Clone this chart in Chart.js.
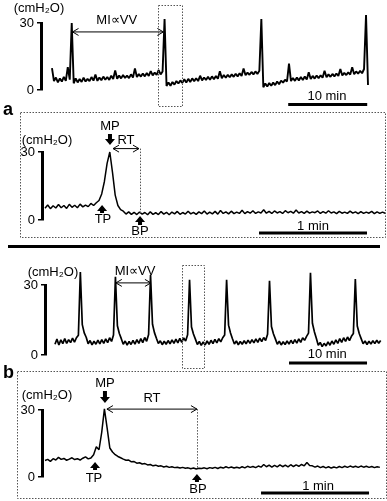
<!DOCTYPE html>
<html><head><meta charset="utf-8">
<script src="https://cdn.jsdelivr.net/npm/chart.js@4"></script>
<style>
html,body{margin:0;padding:0;background:#fff;}
#wrap{position:relative;width:387px;height:501px;overflow:hidden;background:#fff;}
canvas{position:absolute;left:0;top:0;}
.lbl{position:absolute;font:bold 18px "Liberation Sans",Arial,sans-serif;line-height:18px;color:#000;}
#sep{position:absolute;left:8px;top:245px;width:372px;height:3px;background:#000;}
</style></head><body>
<div id="wrap">
<canvas id="c1" width="387" height="501"></canvas>
<canvas id="c2" width="387" height="501"></canvas>
<canvas id="c3" width="387" height="501"></canvas>
<canvas id="c4" width="387" height="501"></canvas>
<div id="sep"></div>
<div class="lbl" style="left:3px;top:100px">a</div>
<div class="lbl" style="left:3px;top:363px">b</div>
</div>
<script>
// ---------- data ----------
const yTickValues = [0, 30];            // cmH2O scale-bar ticks
const unitLabel = '(cmH\u2082O)';
const miLabel = 'MI\u221DVV';

// Panel a, overview: pressure (cmH2O) sampled every 0.25 min
const p1StepMin = 0.25;
const p1Pressure = [
 9.8,4.0,5.6,3.4,5.2,3.8,5.9,4.1,10.2,4.6,
 30.0,3.0,5.2,3.4,4.9,3.6,5.5,3.8,5.0,4.0,
 5.8,4.2,6.9,4.1,5.6,4.4,6.0,4.6,5.8,4.5,
 6.4,4.9,8.8,5.0,6.5,5.2,6.7,5.4,6.4,5.3,
 7.0,5.6,9.6,5.8,7.1,6.0,7.4,6.1,7.6,6.3,
 8.5,6.5,7.8,6.8,8.9,7.0,8.3,31.8,1.8,3.4,
 1.9,3.6,2.4,4.0,2.9,4.3,3.2,4.8,3.3,5.0,
 3.6,5.2,3.9,5.3,4.0,6.4,4.3,5.6,4.5,5.9,
 4.6,6.1,4.8,6.3,5.0,8.4,5.3,6.7,5.5,6.8,
 5.7,7.0,5.9,7.3,6.1,7.5,6.3,9.6,6.6,7.8,
 6.8,8.1,7.0,8.3,7.2,8.6,31.8,1.2,2.9,1.6,
 3.1,1.9,3.3,2.2,3.8,2.6,4.2,3.3,4.6,3.8,
 11.8,4.0,5.4,4.1,5.6,4.3,5.8,4.5,6.0,4.7,
 7.9,4.9,6.3,5.1,6.5,5.3,6.6,5.5,8.6,5.7,
 7.0,5.9,7.2,6.1,7.4,6.3,9.4,6.5,7.7,6.7,
 7.9,6.9,10.2,7.1,8.3,7.3,8.6,7.5,9.4,33.6,
 2.2
];

// Panel a, expanded contraction: pressure sampled every 1.5 s
const p2StepSec = 1.5;
const p2Pressure = [
 5.2,6.6,5.0,6.3,5.3,6.8,5.4,6.4,5.1,6.9,
 5.6,6.5,5.4,7.0,5.8,6.6,5.9,7.3,6.4,7.6,
 8.6,11.5,17.0,25.0,30.0,21.0,11.0,6.4,4.6,3.9,
 2.6,3.6,2.5,3.4,2.4,3.5,2.6,3.3,2.3,3.6,
 2.5,3.2,2.4,3.7,2.6,3.4,2.3,3.5,2.7,3.8,
 2.5,3.3,2.6,3.9,2.7,3.4,2.5,3.6,2.8,4.0,
 2.6,3.5,2.7,3.8,2.6,4.2,2.9,3.6,2.7,3.9,
 2.8,3.5,2.9,4.3,2.8,3.7,3.0,4.1,2.9,3.6,
 3.1,4.5,3.0,3.8,2.9,4.0,3.1,3.7,2.9,4.1,
 3.2,3.8,3.0,4.4,3.1,3.7,2.9,3.9,3.0,3.6,
 3.2,4.0,2.9,3.7,3.0,4.1,3.1,3.6,2.8,3.8,
 3.0,3.5,2.9,3.9,3.0,3.6,2.8,3.7,2.9,3.5,
 3.0,3.8,2.8,3.6,2.9,3.5,3.0
];

// Panel b, overview: pressure sampled every 0.25 min
const p3StepMin = 0.25;
const p3Pressure = [
 4.6,6.8,4.3,6.5,4.9,7.0,5.0,6.6,5.3,7.2,
 5.5,7.4,8.5,35.6,13.0,9.5,7.6,4.8,6.2,4.3,
 5.9,4.6,6.4,4.8,6.6,5.0,6.9,5.3,7.4,5.8,
 8.6,33.5,12.5,9.2,7.0,4.6,6.0,4.2,5.8,4.5,
 6.3,4.7,6.6,5.0,7.0,5.3,7.5,5.9,8.8,34.3,
 13.2,9.6,7.2,4.9,6.1,4.4,5.9,4.6,6.2,4.8,
 6.5,5.0,6.8,5.2,7.1,5.4,7.3,6.0,8.7,32.2,
 12.0,9.0,6.8,4.5,5.8,4.1,5.6,4.3,6.0,4.6,
 6.3,4.9,6.7,5.2,7.0,5.6,7.4,8.6,32.2,12.8,
 9.4,7.0,4.7,6.0,4.4,5.8,4.6,6.1,4.8,6.4,
 5.0,6.6,5.2,6.9,5.4,7.2,5.7,7.5,6.2,8.9,
 31.8,12.2,9.1,6.9,4.6,5.9,4.3,5.7,4.5,6.0,
 4.7,6.3,4.9,6.6,5.1,6.9,5.4,7.4,6.3,8.0,
 9.4,35.2,13.6,10.0,7.2,4.2,5.4,3.6,5.0,3.9,
 5.6,4.2,6.0,4.6,6.5,5.0,7.0,5.4,7.4,5.8,
 7.7,6.2,8.0,9.2,32.6,12.4,9.2,7.0,4.8,6.0,
 4.5,5.9,4.7,6.1,4.9,6.3,5.0,6.2
];

// Panel b, expanded contraction: pressure sampled every 1.5 s
const p4StepSec = 1.5;
const p4Pressure = [
 7.4,7.9,7.0,8.2,7.6,8.8,7.9,8.3,7.5,8.0,
 8.6,7.8,8.2,7.6,8.4,9.0,8.1,8.5,10.0,13.5,
 12.2,20.0,30.5,22.0,13.0,11.2,10.0,9.2,8.6,8.0,
 7.5,7.6,6.8,6.9,6.2,6.4,5.8,6.0,5.4,5.6,
 5.0,5.3,4.8,5.0,4.5,4.8,4.3,4.6,4.2,4.4,
 4.0,4.3,3.9,4.1,3.7,4.0,3.6,3.9,3.8,4.1,
 3.7,4.2,3.9,4.3,3.8,4.4,4.0,4.6,4.1,4.5,
 4.0,4.4,4.0,4.6,4.1,4.8,4.3,4.7,4.2,4.9,
 4.4,5.6,4.6,5.3,4.4,5.2,4.5,5.4,4.6,5.3,
 4.5,5.5,4.7,5.4,4.8,5.6,5.0,6.5,5.2,5.0,
 4.4,4.9,4.2,4.7,4.1,4.6,4.0,4.5,4.1,4.7,
 4.2,4.8,4.3,4.9,4.4,4.8,4.3,4.9,4.4,4.8,
 4.3,4.7,4.2,4.6,4.3
];

// ---------- helpers ----------
const FONT = '"Liberation Sans", Arial, Helvetica, sans-serif';

function toPoints(values, step) {
  return values.map((v, i) => ({ x: i * step, y: v }));
}

function annotPlugin(items) {
  return {
    id: 'annot',
    afterDraw(chart) {
      const ctx = chart.ctx, xs = chart.scales.x, ys = chart.scales.y;
      const X = v => xs.getPixelForValue(v), Y = v => ys.getPixelForValue(v);
      ctx.save();
      ctx.fillStyle = '#000'; ctx.strokeStyle = '#000';
      items.forEach(it => {
        if (it.type === 'text') {
          ctx.font = (it.size || 13) + 'px ' + FONT;
          ctx.textAlign = 'center'; ctx.textBaseline = 'middle';
          ctx.fillText(it.text, X(it.x), Y(it.y));
        } else if (it.type === 'bar') {
          ctx.lineWidth = 3; ctx.setLineDash([]);
          ctx.beginPath(); ctx.moveTo(X(it.x1), Y(it.y)); ctx.lineTo(X(it.x2), Y(it.y)); ctx.stroke();
        } else if (it.type === 'dbl') {
          const x1 = X(it.x1), x2 = X(it.x2), y = Y(it.y);
          ctx.lineWidth = 1; ctx.setLineDash([]);
          ctx.beginPath(); ctx.moveTo(x1, y); ctx.lineTo(x2, y);
          ctx.moveTo(x1 + 6, y - 3.5); ctx.lineTo(x1, y); ctx.lineTo(x1 + 6, y + 3.5);
          ctx.moveTo(x2 - 6, y - 3.5); ctx.lineTo(x2, y); ctx.lineTo(x2 - 6, y + 3.5);
          ctx.stroke();
        } else if (it.type === 'fat') {
          const x = X(it.x), tip = Y(it.tip), tail = Y(it.tail);
          const dir = tail > tip ? 1 : -1;
          const head = 6 * dir;
          ctx.beginPath();
          ctx.moveTo(x, tip);
          ctx.lineTo(x + 5, tip + head);
          ctx.lineTo(x + 2, tip + head);
          ctx.lineTo(x + 2, tail);
          ctx.lineTo(x - 2, tail);
          ctx.lineTo(x - 2, tip + head);
          ctx.lineTo(x - 5, tip + head);
          ctx.closePath(); ctx.fill();
        } else if (it.type === 'box') {
          ctx.lineWidth = 1; ctx.strokeStyle = '#555'; ctx.setLineDash([1.5, 1.5]);
          const x1 = X(it.x1), x2 = X(it.x2), y1 = Y(it.y1), y2 = Y(it.y2);
          ctx.strokeRect(Math.round(x1) + 0.5, Math.round(y1) + 0.5, Math.round(x2 - x1), Math.round(y2 - y1));
          ctx.strokeStyle = '#000'; ctx.setLineDash([]);
        } else if (it.type === 'vdot') {
          ctx.lineWidth = 1; ctx.strokeStyle = '#555'; ctx.setLineDash([1.5, 1.5]);
          const x = Math.round(X(it.x)) + 0.5;
          ctx.beginPath(); ctx.moveTo(x, Y(it.y1)); ctx.lineTo(x, Y(it.y2)); ctx.stroke();
          ctx.strokeStyle = '#000'; ctx.setLineDash([]);
        }
      });
      ctx.restore();
    }
  };
}

function makePanel(id, values, step, xmin, xmax, pad, lw, items) {
  return new Chart(document.getElementById(id), {
    type: 'line',
    data: { datasets: [{
      data: toPoints(values, step),
      borderColor: '#000', borderWidth: lw, pointRadius: 0,
      borderJoinStyle: 'bevel',
      tension: 0, clip: false, fill: false
    }]},
    options: {
      responsive: false, animation: false, events: [],
      layout: { padding: pad },
      plugins: { legend: { display: false }, tooltip: { enabled: false } },
      scales: {
        x: { type: 'linear', display: false, min: xmin, max: xmax },
        y: {
          min: 0, max: 30, position: 'left',
          afterFit(s) { s.width = 30; },
          afterBuildTicks(s) { s.ticks = yTickValues.map(v => ({ value: v })); },
          ticks: { color: '#000', padding: 3, font: { family: FONT, size: 13 } },
          grid: { display: true, drawOnChartArea: false, drawTicks: true, tickLength: 4, color: '#000', lineWidth: 1.5 },
          border: { display: true, width: 3, color: '#000' }
        }
      }
    },
    plugins: [annotPlugin(items)]
  });
}

// ---------- panel a: overview (minutes) ----------
makePanel('c1', p1Pressure, p1StepMin, -1.39, 40, { left: 11, right: 19, top: 23, bottom: 411 }, 1.9, [
  { type: 'text', text: unitLabel, x: -1.65, y: 36.7 },
  { type: 'text', text: miLabel, x: 8.2, y: 31.3 },
  { type: 'dbl', x1: 2.6, x2: 14.1, y: 26 },
  { type: 'box', x1: 13.42, x2: 16.46, y1: 38.06, y2: -7.16 },
  { type: 'text', text: '10 min', x: 34.8, y: -2.7 },
  { type: 'bar', x1: 29.9, x2: 39.9, y: -6.5 }
]);

// ---------- panel a: expanded (seconds) ----------
makePanel('c2', p2Pressure, p2StepSec, -1.67, 188.9, { left: 12, right: 2, top: 152, bottom: 281 }, 1.5, [
  { type: 'box', x1: -13.9, x2: 188.9, y1: 47.6, y2: -7.5 },
  { type: 'text', text: unitLabel, x: 1.1, y: 35.3 },
  { type: 'text', text: 'MP', x: 36.1, y: 41.5 },
  { type: 'fat', x: 36.1, tip: 33.1, tail: 37.9 },
  { type: 'text', text: 'RT', x: 45, y: 34.9 },
  { type: 'dbl', x1: 37.8, x2: 52.2, y: 31.5 },
  { type: 'vdot', x: 52.8, y1: 31.5, y2: 3.0 },
  { type: 'fat', x: 31.7, tip: 6.6, tail: 3.1 },
  { type: 'text', text: 'TP', x: 32.2, y: 0.4 },
  { type: 'fat', x: 52.8, tip: 1.8, tail: -2.2 },
  { type: 'text', text: 'BP', x: 52.8, y: -4.85 },
  { type: 'text', text: '1 min', x: 148.9, y: -2.65 },
  { type: 'bar', x1: 118.9, x2: 178.9, y: -5.7 }
]);

// ---------- panel b: overview (minutes) ----------
makePanel('c3', p3Pressure, p3StepMin, -1.28, 41.92, { left: 15, right: 5, top: 285, bottom: 146 }, 1.7, [
  { type: 'text', text: unitLabel, x: -0.26, y: 35.6 },
  { type: 'text', text: miLabel, x: 10.26, y: 36.0 },
  { type: 'dbl', x1: 7.8, x2: 12.3, y: 30.9 },
  { type: 'box', x1: 16.28, x2: 19.1, y1: 38.6, y2: -5.57 },
  { type: 'text', text: '10 min', x: 34.9, y: 0.43 },
  { type: 'bar', x1: 30, x2: 40, y: -3.43 }
]);

// ---------- panel b: expanded (seconds) ----------
makePanel('c4', p4Pressure, p4StepSec, -1.67, 187.2, { left: 12, right: 5, top: 410, bottom: 24 }, 1.5, [
  { type: 'box', x1: -15.6, x2: 189.4, y1: 47.5, y2: -9.4 },
  { type: 'text', text: unitLabel, x: 1.1, y: 36.7 },
  { type: 'text', text: 'MP', x: 33.3, y: 42.1 },
  { type: 'fat', x: 33.3, tip: 33.1, tail: 38.5 },
  { type: 'text', text: 'RT', x: 59.4, y: 35.4 },
  { type: 'dbl', x1: 34.4, x2: 84.4, y: 30.4 },
  { type: 'vdot', x: 84.4, y1: 30.4, y2: 3.6 },
  { type: 'fat', x: 27.8, tip: 6.7, tail: 3.1 },
  { type: 'text', text: 'TP', x: 27.2, y: -0.45 },
  { type: 'fat', x: 84.4, tip: 1.3, tail: -2.2 },
  { type: 'text', text: 'BP', x: 85, y: -5.4 },
  { type: 'text', text: '1 min', x: 151.7, y: -4.0 },
  { type: 'bar', x1: 120, x2: 180, y: -7.2 }
]);
</script>
</body></html>
